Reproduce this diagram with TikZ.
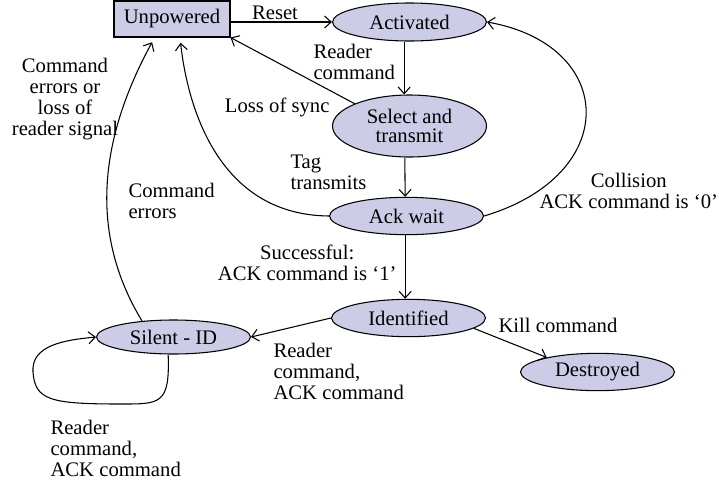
\documentclass[tikz,border=0pt]{standalone}
\usepackage{fontspec}
\setmainfont{Liberation Serif}
\usetikzlibrary{arrows.meta}
\usetikzlibrary{shapes.geometric}
\definecolor{statefill}{RGB}{204,204,230}

\begin{document}
\begin{tikzpicture}[
        x=0.75pt, y=-0.75pt,
        font=\fontsize{15.5}{15.75}\selectfont,
        line width=0.8pt,
        >={Straight Barb[length=5pt,width=9pt]},
        stateoval/.style={
            ellipse,
            draw,
            fill=statefill,
            inner sep=0pt,
            minimum width=115.5pt,
            minimum height=28pt,
        },
        powerbox/.style={
            rectangle,
            draw,
            fill=statefill,
            minimum width=87pt,
            minimum height=27pt,
        },
        lbl/.style={inner sep=0pt, align=left},
    ]

    \useasboundingbox (0,0) rectangle (719,486);

    \node (unp) at (172,19) [powerbox] {Unpowered};
    \node (act) at (409.5,22) [stateoval, minimum height=28.5pt] {Activated};
    \node (sel) at (409.5,126) [stateoval, minimum height=46.5pt, align=center, font=\fontsize{15.5}{14.5}\selectfont] {Select and\\transmit};
    \node (ack) at (406.5,216) [stateoval] {Ack wait};
    \node (idf) at (408.5,318) [stateoval] {Identified};
    \node (des) at (597.5,372) [stateoval] {Destroyed};
    \node (sil) at (173.5,337) [stateoval, minimum height=25.5pt] {Silent - ID};

    \node (resetlbl) at (275,13) [lbl] {Reset};
    \node (readlbl) at (313,62) [lbl, anchor=west] {Reader\\command};
    \node (synclbl) at (330,107) [lbl, anchor=east] {Loss of sync};
    \node (taglbl) at (290,172) [lbl, anchor=west] {Tag\\transmits};
    \node (errlbl) at (128,201) [lbl, anchor=west] {Command\\errors};
    \node (oklbl) at (397,263) [lbl, anchor=east, align=center] {Successful:\\ACK command is ‘1’};
    \node (colllbl) at (539,191) [lbl, anchor=west, align=center] {Collision\\ACK command is ‘0’};
    \node (killlbl) at (498,325) [lbl, anchor=west] {Kill command};
    \node (silentlbl) at (273,371) [lbl, anchor=west] {Reader\\command,\\ACK command};
    \node (looplbl) at (50,448) [lbl, anchor=west] {Reader\\command,\\ACK command};
    \node (lostlbl) at (65,99) [lbl, align=center] {Command\\errors or\\loss of\\reader signal};

    \draw [->] (unp.east |- act) -- (act);
    \draw [->] ([xshift=-4pt]act.south) -- ([xshift=-4pt]sel.north);
    \draw [->] (sel.north west) -- (unp.south east);
    \draw [->] ([xshift=-3.5pt]sel.south) -- ([xshift=-1pt]ack.north);
    \draw [->] (ack.east) .. controls (622,175) and (617,45) .. (act.east);
    \draw [->, shorten >=4pt] (ack.west) .. controls (220,215) and (188,110) .. ([xshift=6pt]unp.south);
    \draw [->] ([xshift=-1pt]ack.south) -- ([xshift=-2.5pt]idf.north);
    \draw [->] (idf.-9) -- (des.164);
    \draw [->] (idf.west) -- (sil.east);
    \draw [->] ([xshift=-4pt]sil.south) .. controls (170,405) and (160,404) .. (120,404)
        .. controls (50,404) and (35,400) .. (33,372)
        .. controls (31,345) and (65,340) .. (sil.west);
    \draw [->, shorten >=4pt] (sil.153) .. controls (102,255) and (85,165) .. ([xshift=-13pt]unp.south);

\end{tikzpicture}
\end{document}
